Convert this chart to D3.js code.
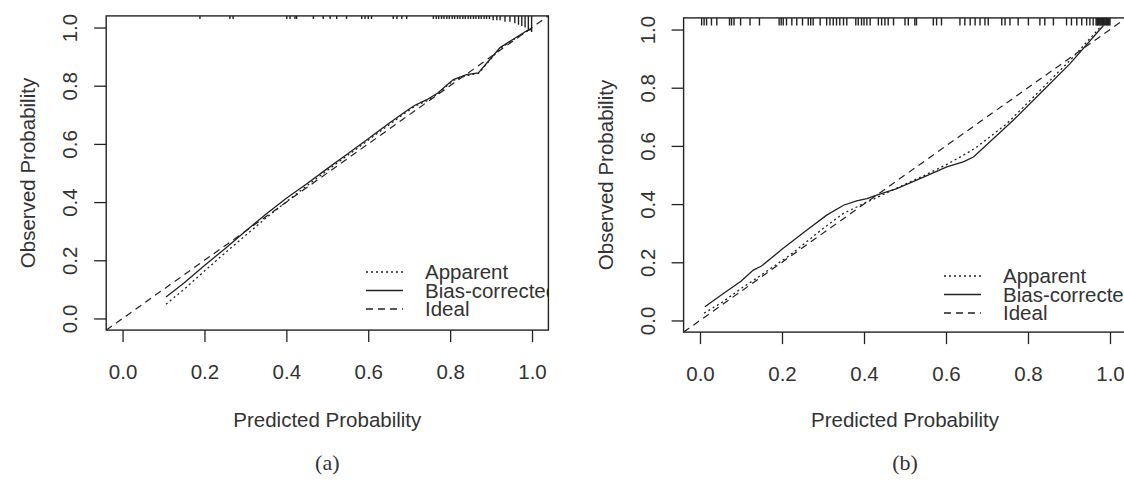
<!DOCTYPE html>
<html>
<head>
<meta charset="utf-8">
<script src="https://cdn.jsdelivr.net/npm/d3@7"></script>
<style>
  body { margin: 0; background: #fff; }
  svg text { font-family: "Liberation Sans", Arial, sans-serif; fill: #333; }
  .caption { font-family: "Liberation Serif", "Times New Roman", serif; }
</style>
</head>
<body>
<svg id="chart" width="1124" height="480"></svg>
<script>
// ---- data ----
const xTicks = [0, 0.2, 0.4, 0.6, 0.8, 1.0];
const yTicks = [0, 0.2, 0.4, 0.6, 0.8, 1.0];
const legendLabels = ['Apparent', 'Bias-corrected', 'Ideal'];

// panel (a)
const predA = [0.106, 0.15, 0.2, 0.25, 0.3, 0.35, 0.4, 0.45, 0.5, 0.55, 0.6, 0.65, 0.68, 0.7, 0.714, 0.743, 0.77, 0.79, 0.808, 0.84, 0.869, 0.897, 0.922, 0.954, 0.987, 0.999];
const biasA = [0.074, 0.122, 0.182, 0.240, 0.300, 0.358, 0.413, 0.463, 0.515, 0.566, 0.618, 0.670, 0.700, 0.720, 0.733, 0.752, 0.775, 0.800, 0.821, 0.838, 0.844, 0.890, 0.931, 0.960, 0.989, 0.994];
const appA  = [0.049, 0.100, 0.163, 0.225, 0.285, 0.345, 0.401, 0.456, 0.509, 0.561, 0.613, 0.665, 0.696, 0.716, 0.730, 0.748, 0.772, 0.797, 0.818, 0.835, 0.842, 0.888, 0.928, 0.958, 0.987, 0.992];
const rugA = [0.189, 0.262, 0.270, 0.401, 0.409, 0.421, 0.425, 0.466, 0.490, 0.507, 0.523, 0.547, 0.584, 0.592, 0.600, 0.608, 0.661, 0.670, 0.682, 0.694,
  0.759, 0.766, 0.772, 0.779, 0.785, 0.792, 0.798, 0.805, 0.811, 0.818, 0.824, 0.831, 0.837, 0.844, 0.850, 0.857, 0.863, 0.870, 0.876, 0.883, 0.889, 0.896,
  0.905, 0.914, 0.922, 0.934, 0.946, 0.958, 0.967, 0.975, 0.983, 0.991, 0.999];
const rugACount = [1, 1, 1, 1, 1, 1, 1, 1, 1, 1, 1, 1, 1, 1, 1, 1, 1, 1, 1, 1,
  1, 1, 1, 1, 1, 1, 1, 1, 1, 1, 1, 1, 1, 1, 1, 1, 1, 1, 1, 1, 1, 1,
  2, 2, 2, 3, 3, 4, 5, 6, 7, 9, 10];

// panel (b)
const predB = [0.012, 0.057, 0.10, 0.13, 0.15, 0.203, 0.26, 0.309, 0.35, 0.382, 0.407, 0.431, 0.48, 0.545, 0.602, 0.642, 0.667, 0.764, 0.829, 0.902, 0.984];
const biasB = [0.047, 0.093, 0.135, 0.173, 0.187, 0.248, 0.310, 0.362, 0.396, 0.411, 0.419, 0.431, 0.453, 0.493, 0.528, 0.545, 0.562, 0.688, 0.779, 0.882, 1.014];
const predB2 = [0.010, 0.057, 0.10, 0.138, 0.22, 0.30, 0.35, 0.382, 0.398, 0.42, 0.48, 0.545, 0.60, 0.65, 0.675, 0.748, 0.829, 0.91, 0.976];
const appB   = [0.025, 0.065, 0.110, 0.145, 0.225, 0.316, 0.368, 0.390, 0.402, 0.415, 0.455, 0.497, 0.535, 0.574, 0.596, 0.676, 0.790, 0.905, 1.008];
const rugB = [0.004, 0.010, 0.016, 0.028, 0.041, 0.072, 0.077, 0.083, 0.099, 0.122, 0.145, 0.193, 0.198, 0.203, 0.211, 0.224, 0.236, 0.250, 0.264, 0.270, 0.276,
  0.293, 0.309, 0.317, 0.325, 0.333, 0.341, 0.350, 0.358, 0.380, 0.386, 0.394, 0.400, 0.407, 0.415, 0.435, 0.443, 0.451, 0.459, 0.472,
  0.500, 0.508, 0.524, 0.528, 0.569, 0.577, 0.589, 0.634, 0.646, 0.659, 0.671, 0.683, 0.695, 0.703, 0.736, 0.744, 0.756, 0.776, 0.801,
  0.829, 0.841, 0.862, 0.894, 0.906, 0.919, 0.931, 0.943, 0.951, 0.959,
  0.966, 0.968, 0.970, 0.972, 0.974, 0.976, 0.978, 0.980, 0.982, 0.984, 0.986, 0.988, 0.990, 0.992, 0.994, 0.996, 0.998, 1.000];

const svg = d3.select('#chart');
const ink = '#222';
const fs = 20.5;

const panels = [
  { id: 'a', x0: 106.2, x1: 548.4, y0: 330.1, y1: 15.9, pred: predA, bias: biasA, predApp: predA, app: appA,
    rug: rugA, rugCount: rugACount, legendY: 272, legendX: 366 },
  { id: 'b', x0: 683.6, x1: 1126.4, y0: 332.1, y1: 17.9, pred: predB, bias: biasB, predApp: predB2, app: appB,
    rug: rugB, rugCount: null, legendY: 276, legendX: 944 }
];

panels.forEach(p => {
  const xScale = d3.scaleLinear().domain([-0.04, 1.04]).range([p.x0, p.x1]);
  const yScale = d3.scaleLinear().domain([-0.04, 1.04]).range([p.y0, p.y1]);
  const g = svg.append('g');

  const clipId = 'clip-' + p.id;
  svg.append('clipPath').attr('id', clipId)
    .append('rect')
    .attr('x', p.x0).attr('y', p.y1)
    .attr('width', p.x1 - p.x0).attr('height', p.y0 - p.y1);

  // axes
  const xAxis = d3.axisBottom(xScale).tickValues(xTicks).tickSize(12).tickPadding(22)
    .tickFormat(d3.format('.1f'));
  const xAxisG = g.append('g').attr('transform', `translate(0,${p.y0})`).call(xAxis);
  xAxisG.select('.domain').remove();
  xAxisG.selectAll('line').attr('stroke', ink).attr('stroke-width', 1.3);
  xAxisG.selectAll('text').attr('font-size', fs).attr('font-family', null).attr('fill', '#333');

  const yAxis = d3.axisLeft(yScale).tickValues(yTicks).tickSize(12)
    .tickFormat(d3.format('.1f'));
  const yAxisG = g.append('g').attr('transform', `translate(${p.x0},0)`).call(yAxis);
  yAxisG.select('.domain').remove();
  yAxisG.selectAll('line').attr('stroke', ink).attr('stroke-width', 1.3);
  yAxisG.selectAll('text')
    .attr('font-size', fs).attr('font-family', null).attr('fill', '#333')
    .attr('x', 0).attr('y', -29).attr('dy', null)
    .attr('text-anchor', 'middle')
    .attr('transform', 'rotate(-90)');

  // axis titles
  g.append('text')
    .attr('x', (p.x0 + p.x1) / 2)
    .attr('y', 427)
    .attr('text-anchor', 'middle')
    .attr('font-size', fs)
    .text('Predicted Probability');

  const midY = (p.y0 + p.y1) / 2;
  g.append('text')
    .attr('transform', `translate(${p.x0 - 71},${midY}) rotate(-90)`)
    .attr('text-anchor', 'middle')
    .attr('font-size', fs)
    .text('Observed Probability');

  g.append('text')
    .attr('class', 'caption')
    .attr('x', xScale(0.5))
    .attr('y', 470)
    .attr('text-anchor', 'middle')
    .attr('font-size', 22)
    .attr('fill', '#111')
    .text('(' + p.id + ')');

  const inner = g.append('g').attr('clip-path', `url(#${clipId})`);

  // ideal line
  inner.append('line')
    .attr('x1', xScale(-0.04)).attr('y1', yScale(-0.04))
    .attr('x2', xScale(1.04)).attr('y2', yScale(1.04))
    .attr('stroke', ink).attr('stroke-width', 1.2)
    .attr('stroke-dasharray', '7,5');

  const line = d3.line().curve(d3.curveLinear);

  // apparent (dotted)
  inner.append('path')
    .attr('d', line(p.predApp.map((d, i) => [xScale(d), yScale(p.app[i])])))
    .attr('fill', 'none').attr('stroke', ink).attr('stroke-width', 1.3)
    .attr('stroke-dasharray', '2,3');

  // bias-corrected (solid)
  inner.append('path')
    .attr('d', line(p.pred.map((d, i) => [xScale(d), yScale(p.bias[i])])))
    .attr('fill', 'none').attr('stroke', ink).attr('stroke-width', 1.3);

  // rug of predictions along the top
  const lenScale = d3.scaleLinear().domain([1, 10]).range([3, 16]);
  inner.selectAll('line.rug')
    .data(p.rug)
    .enter().append('line')
    .attr('class', 'rug')
    .attr('x1', d => xScale(d)).attr('x2', d => xScale(d))
    .attr('y1', p.y1)
    .attr('y2', (d, i) => p.y1 + (p.rugCount ? lenScale(p.rugCount[i]) : 7.5))
    .attr('stroke', ink).attr('stroke-width', 1.4);

  // legend
  const legendDash = ['2,3', null, '7,5'];
  legendLabels.forEach((lab, i) => {
    const ly = p.legendY + i * 18.5;
    inner.append('line')
      .attr('x1', p.legendX).attr('x2', p.legendX + 37)
      .attr('y1', ly).attr('y2', ly)
      .attr('stroke', ink).attr('stroke-width', 1.3)
      .attr('stroke-dasharray', legendDash[i]);
    inner.append('text')
      .attr('x', p.legendX + 59).attr('y', ly + 7)
      .attr('font-size', fs)
      .text(lab);
  });

  // box
  g.append('rect')
    .attr('x', p.x0).attr('y', p.y1)
    .attr('width', p.x1 - p.x0).attr('height', p.y0 - p.y1)
    .attr('fill', 'none').attr('stroke', ink).attr('stroke-width', 1.4);
});
</script>
</body>
</html>
